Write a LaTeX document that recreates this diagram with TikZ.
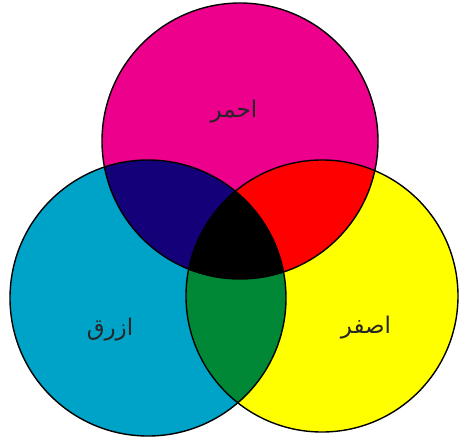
\documentclass[tikz,border=0pt]{standalone}
\usepackage{fontspec}
\usepackage{tikz}
\TeXXeTstate=1
\newfontfamily\arabicfont[Script=Arabic]{DejaVu Sans}
\definecolor{inkmagenta}{HTML}{EC008C}
\definecolor{inkcyan}{HTML}{00A3C8}
\definecolor{inkyellow}{HTML}{FFFF00}
\definecolor{mixblue}{HTML}{140078}
\definecolor{mixred}{HTML}{FF0000}
\definecolor{mixgreen}{HTML}{008837}
\tikzset{
  ring/.style={draw=black, line width=1.4pt},
  colorlabel/.style={font=\arabicfont\fontsize{23}{26}\selectfont, text=black!85, inner sep=0pt}
}
% circle paths
\newcommand{\magentapath}{(240,141) circle (138)}
\newcommand{\cyanpath}{(148,298) circle (138)}
\newcommand{\yellowpath}{(322,296) circle (136)}

\begin{document}
\begin{tikzpicture}[x=1pt, y=-1pt]
  \useasboundingbox (0,0) rectangle (459,440);

  % base discs
  \fill[inkmagenta] \magentapath;
  \fill[inkcyan] \cyanpath;
  \fill[inkyellow] \yellowpath;

  % pairwise overlaps
  \begin{scope}
    \clip \magentapath;
    \fill[mixblue] \cyanpath;
    \fill[mixred] \yellowpath;
  \end{scope}
  \begin{scope}
    \clip \cyanpath;
    \fill[mixgreen] \yellowpath;
  \end{scope}

  % centre, all three
  \begin{scope}
    \clip \magentapath;
    \clip \cyanpath;
    \fill[black] \yellowpath;
  \end{scope}

  % outlines
  \draw[ring] \magentapath;
  \draw[ring] \cyanpath;
  \draw[ring] \yellowpath;

  % labels
  \node[colorlabel] (red) at (234,112) {\beginR احمر\endR};
  \node[colorlabel] (blue) at (110,330) {\beginR ازرق\endR};
  \node[colorlabel] (yellow) at (366,328) {\beginR اصفر\endR};
\end{tikzpicture}
\end{document}
